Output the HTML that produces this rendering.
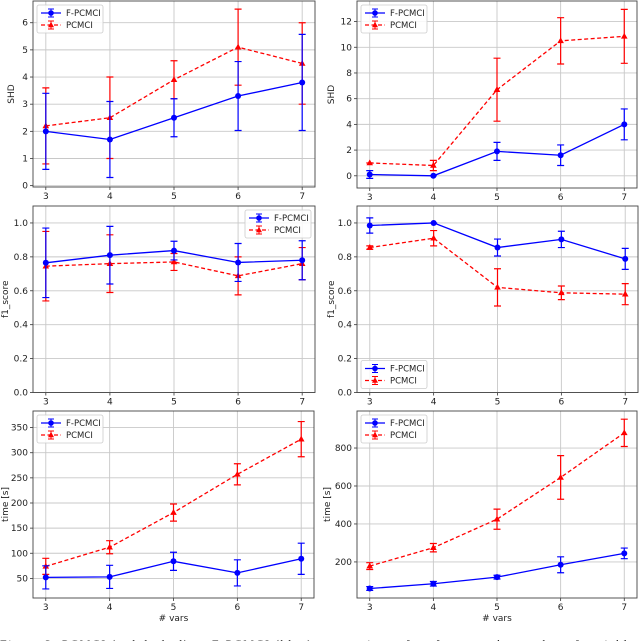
<!DOCTYPE html>
<html><head><meta charset="utf-8"><style>
body{margin:0;background:#fff;}
svg{display:block;font-family:"DejaVu Sans","Liberation Sans",sans-serif;}
</style></head><body>
<svg id="fig" width="640" height="641" viewBox="0 0 640 641" xmlns="http://www.w3.org/2000/svg">
<text x="0" y="648" font-size="12" font-family="Liberation Serif, serif" fill="#222" textLength="640">Figure 3: PCMCI (red dashed) vs F-PCMCI (blue): comparison of performance by number of variables</text>
</svg>
<script>
const categories=[3,4,5,6,7];
const shdLeftF=[2,1.7,2.5,3.3,3.8];
const shdLeftFErr=[1.4,1.4,0.7,1.27,1.77];
const shdLeftP=[2.2,2.5,3.9,5.1,4.5];
const shdLeftPErr=[1.4,1.5,0.7,1.4,1.5];
const shdRightF=[0.1,0,1.9,1.6,4.0];
const shdRightFErr=[0.3,0,0.7,0.8,1.2];
const shdRightP=[1.0,0.8,6.7,10.5,10.85];
const shdRightPErr=[0,0.4,2.45,1.8,2.1];
const f1LeftF=[0.765,0.81,0.837,0.767,0.78];
const f1LeftFErr=[0.205,0.17,0.055,0.112,0.115];
const f1LeftP=[0.745,0.76,0.77,0.688,0.76];
const f1LeftPErr=[0.205,0.17,0.05,0.112,0.095];
const f1RightF=[0.985,1.0,0.855,0.903,0.788];
const f1RightFErr=[0.045,0,0.05,0.048,0.062];
const f1RightP=[0.855,0.91,0.62,0.588,0.58];
const f1RightPErr=[0.01,0.045,0.11,0.04,0.062];
const timeLeftF=[52,53,84,61,89];
const timeLeftFErr=[23,23,18,26,31];
const timeLeftP=[74,112,181,257,327];
const timeLeftPErr=[16,13,17,21,35];
const timeRightF=[60,85,120,185,245];
const timeRightFErr=[10,12,10,42,28];
const timeRightP=[178,275,425,645,880];
const timeRightPErr=[18,22,53,115,72];
const shdLeftTicks=[0,1,2,3,4,5,6];
const shdRightTicks=[0,2,4,6,8,10,12];
const f1Ticks=[0.0,0.2,0.4,0.6,0.8,1.0];
const timeLeftTicks=[50,100,150,200,250,300,350];
const timeRightTicks=[200,400,600,800];

const svg=document.getElementById('fig');
const NS='http://www.w3.org/2000/svg';
function mk(tag,attrs,parent){const e=document.createElementNS(NS,tag);for(const k in attrs)e.setAttribute(k,attrs[k]);(parent||svg).appendChild(e);return e;}

function panel(cfg){
  const g=mk('g',{});
  
  
  const L=cfg.l,R=cfg.r,T=cfg.t,B=cfg.b;
  const xs=v=>L+(v-2.8)/(4.4)*(R-L);
  const ys=v=>B-(v-cfg.ymin)/(cfg.ymax-cfg.ymin)*(B-T);
  mk('rect',{x:L,y:T,width:R-L,height:B-T,fill:'#fff'},g);
  categories.forEach(c=>{
    const x=xs(c);
    const gl=mk('line',{x1:x,x2:x,y1:T,y2:B,stroke:'#c8c8c8','stroke-width':0.9},g);
    
    
    mk('line',{x1:x,x2:x,y1:B,y2:B+3,stroke:'#333','stroke-width':0.8},g);
    const t=mk('text',{x:x,y:B+12,'font-size':9,'text-anchor':'middle',fill:'#222'},g);
    t.textContent=c;
    
    
  });
  cfg.ticks.forEach(v=>{
    const y=ys(v);
    const gl=mk('line',{x1:L,x2:R,y1:y,y2:y,stroke:'#c8c8c8','stroke-width':0.9},g);
    
    
    mk('line',{x1:L-3,x2:L,y1:y,y2:y,stroke:'#333','stroke-width':0.8},g);
    const t=mk('text',{x:L-5,y:y+3,'font-size':9,'text-anchor':'end',fill:'#222'},g);
    t.textContent=cfg.fmt?cfg.fmt(v):v;
    
    
  });
  const yl=mk('text',{x:0,y:0,'font-size':9,'text-anchor':'middle',fill:'#222',transform:`translate(${cfg.ylx},${(T+B)/2}) rotate(-90)`},g);
  yl.textContent=cfg.ylabel;
  
  
  if(cfg.xlabel){
    const xl=mk('text',{x:(L+R)/2,y:B+23,'font-size':9,'text-anchor':'middle',fill:'#222'},g);
    xl.textContent='# vars';
    
    
  }
  const series=[{v:cfg.P,e:cfg.PE,c:'#ff0000',dash:'4,2.5',m:'tri',n:'pcmci'},{v:cfg.F,e:cfg.FE,c:'#0000ff',dash:null,m:'dot',n:'f-pcmci'}];
  series.forEach(s=>{
    let d='';
    s.v.forEach((v,i)=>{d+=(i?'L':'M')+xs(categories[i])+','+ys(v);});
    const ln=mk('path',{d:d,fill:'none',stroke:s.c,'stroke-width':1.3},g);
    if(s.dash)ln.setAttribute('stroke-dasharray',s.dash);
    
    
    s.v.forEach((v,i)=>{
      const x=xs(categories[i]),y1=ys(v-s.e[i]),y2=ys(v+s.e[i]);
      const eb=mk('path',{d:`M${x},${y1}L${x},${y2}M${x-3.5},${y1}L${x+3.5},${y1}M${x-3.5},${y2}L${x+3.5},${y2}`,stroke:s.c,'stroke-width':1.2,fill:'none'},g);
      
      
      const y=ys(v);
      let mkEl;
      if(s.m==='dot')mkEl=mk('circle',{cx:x,cy:y,r:3,fill:s.c},g);
      else mkEl=mk('path',{d:`M${x},${y-3.5}L${x+3.3},${y+2.3}L${x-3.3},${y+2.3}Z`,fill:s.c},g);
      
      
    });
  });
  mk('rect',{x:L,y:T,width:R-L,height:B-T,fill:'none',stroke:'#444','stroke-width':0.9},g);
  const lw=66,lh=28;
  let lx,ly;
  if(cfg.leg==='ul'){lx=L+4;ly=T+4;}
  else if(cfg.leg==='ur'){lx=R-4-lw;ly=T+4;}
  else {lx=L+4;ly=B-4-lh;}
  const lg=mk('g',{},g);
  
  
  mk('rect',{x:lx,y:ly,width:lw,height:lh,rx:2,fill:'#fff','fill-opacity':0.85,stroke:'#ccc','stroke-width':0.8},lg);
  [{c:'#0000ff',t:'F-PCMCI',m:'dot',dash:null},{c:'#ff0000',t:'PCMCI',m:'tri',dash:'4,2.5'}].forEach((e,k)=>{
    const yy=ly+8+k*12,x0=lx+4,x1=lx+24,xm=(x0+x1)/2;
    const eg=mk('g',{},lg);
    
    
    const l=mk('line',{x1:x0,x2:x1,y1:yy,y2:yy,stroke:e.c,'stroke-width':1.3},eg);
    if(e.dash)l.setAttribute('stroke-dasharray',e.dash);
    mk('path',{d:`M${xm},${yy-4}L${xm},${yy+4}M${xm-3},${yy-4}L${xm+3},${yy-4}M${xm-3},${yy+4}L${xm+3},${yy+4}`,stroke:e.c,'stroke-width':1},eg);
    if(e.m==='dot')mk('circle',{cx:xm,cy:yy,r:2.8,fill:e.c},eg);
    else mk('path',{d:`M${xm},${yy-3.3}L${xm+3},${yy+2.2}L${xm-3},${yy+2.2}Z`,fill:e.c},eg);
    const t=mk('text',{x:lx+29,y:yy+3,'font-size':8.5,fill:'#222'},eg);
    t.textContent=e.t;
  });
}

const f1fmt=v=>v.toFixed(1);
panel({name:'shd-left-chart',l:33,r:315,t:1,b:187,ymin:-0.05,ymax:6.8,ticks:shdLeftTicks,ylabel:'SHD',ylx:14,F:shdLeftF,FE:shdLeftFErr,P:shdLeftP,PE:shdLeftPErr,leg:'ul'});
panel({name:'shd-right-chart',l:357,r:637,t:1,b:188,ymin:-0.95,ymax:13.6,ticks:shdRightTicks,ylabel:'SHD',ylx:334,F:shdRightF,FE:shdRightFErr,P:shdRightP,PE:shdRightPErr,leg:'ul'});
panel({name:'f1-left-chart',l:33,r:315,t:206,b:392.5,ymin:0,ymax:1.1,ticks:f1Ticks,fmt:f1fmt,ylabel:'f1_score',ylx:8,F:f1LeftF,FE:f1LeftFErr,P:f1LeftP,PE:f1LeftPErr,leg:'ur'});
panel({name:'f1-right-chart',l:357,r:638,t:206,b:392.5,ymin:0,ymax:1.1,ticks:f1Ticks,fmt:f1fmt,ylabel:'f1_score',ylx:334,F:f1RightF,FE:f1RightFErr,P:f1RightP,PE:f1RightPErr,leg:'ll'});
panel({name:'time-left-chart',l:33,r:314,t:411,b:598,ymin:11,ymax:383,ticks:timeLeftTicks,ylabel:'time [s]',ylx:8,F:timeLeftF,FE:timeLeftFErr,P:timeLeftP,PE:timeLeftPErr,leg:'ul',xlabel:true});
panel({name:'time-right-chart',l:357,r:637,t:411,b:598,ymin:10,ymax:995,ticks:timeRightTicks,ylabel:'time [s]',ylx:330,F:timeRightF,FE:timeRightFErr,P:timeRightP,PE:timeRightPErr,leg:'ul',xlabel:true});
</script>
</body></html>
